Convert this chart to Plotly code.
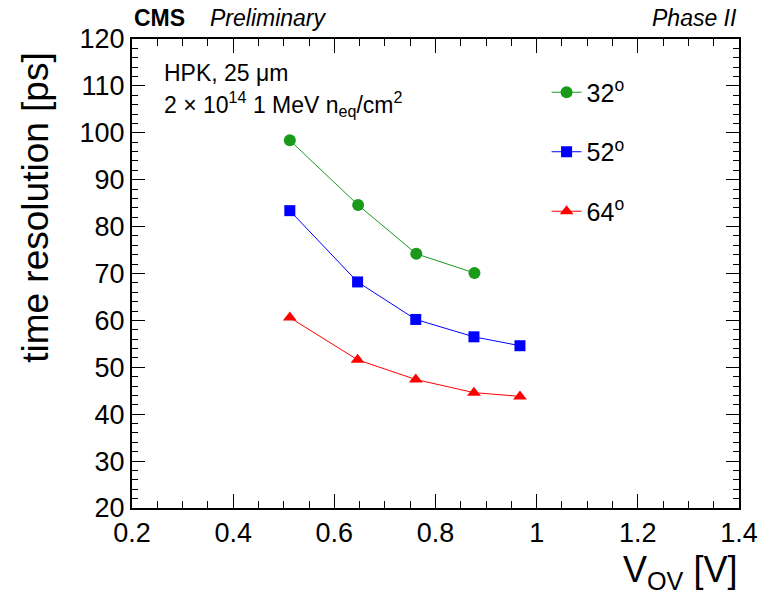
import plotly.graph_objects as go

# Data
vov_32 = [0.512, 0.647, 0.762, 0.877]
res_32 = [98.4, 84.6, 74.2, 70.1]

vov_52 = [0.512, 0.646, 0.761, 0.876, 0.967]
res_52 = [83.4, 68.2, 60.2, 56.5, 54.6]

vov_64 = [0.512, 0.646, 0.761, 0.876, 0.967]
res_64 = [60.6, 51.6, 47.4, 44.6, 43.8]

series_names = ["32<sup>o</sup>", "52<sup>o</sup>", "64<sup>o</sup>"]
x_ticks = [0.2, 0.4, 0.6, 0.8, 1.0, 1.2, 1.4]
x_tick_labels = ["0.2", "0.4", "0.6", "0.8", "1", "1.2", "1.4"]
y_ticks = [20, 30, 40, 50, 60, 70, 80, 90, 100, 110, 120]

FONT = "Liberation Sans, Arial, Helvetica, sans-serif"

fig = go.Figure()
fig.add_trace(go.Scatter(x=vov_32, y=res_32, name=series_names[0], mode="lines+markers",
                         legendgroup="a",
                         line=dict(color="#1a9a1a", width=1),
                         marker=dict(symbol="circle", size=12, color="#1a9a1a")))
fig.add_trace(go.Scatter(x=vov_52, y=res_52, name=series_names[1], mode="lines+markers",
                         legendgroup="b",
                         line=dict(color="#0000ff", width=1),
                         marker=dict(symbol="square", size=11, color="#0000ff")))
fig.add_trace(go.Scatter(x=vov_64, y=res_64, name=series_names[2], mode="lines+markers",
                         legendgroup="c",
                         line=dict(color="#ff0000", width=1),
                         marker=dict(symbol="triangle-up", size=12, color="#ff0000")))

axis_common = dict(
    showgrid=False, zeroline=False, showline=True, linecolor="black", linewidth=2,
    mirror="allticks", ticks="inside", tickcolor="black", tickwidth=1,
    tickfont=dict(family=FONT, size=27, color="black"),
)

fig.update_xaxes(range=[0.2, 1.4], tickvals=x_ticks, ticktext=x_tick_labels, ticklen=14,
                 minor=dict(dtick=0.05, ticklen=7, ticks="inside", tickcolor="black", tickwidth=1),
                 **axis_common)
fig.update_yaxes(range=[20, 120], tickvals=y_ticks, ticklen=13,
                 minor=dict(dtick=2, ticklen=6, ticks="inside", tickcolor="black", tickwidth=1),
                 **axis_common)

annotations = [
    dict(text="time resolution [ps]", xref="paper", yref="paper", x=-0.154, y=0.977,
         xshift=-3, xanchor="center", yanchor="top", textangle=-90, showarrow=False,
         font=dict(family=FONT, size=37, color="black")),
    dict(text="V<sub>OV</sub> [V]", xref="paper", yref="paper", x=1.0, y=-0.095, yshift=6,
         xanchor="right", yanchor="top", showarrow=False,
         font=dict(family=FONT, size=36, color="black")),
    dict(text="<b>CMS</b>", xref="paper", yref="paper", x=0.0, y=1.0, yshift=6,
         xanchor="left", yanchor="bottom", showarrow=False,
         font=dict(family=FONT, size=23, color="black")),
    dict(text="<i>Preliminary</i>", xref="paper", yref="paper", x=0.125, y=1.0, yshift=6,
         xanchor="left", yanchor="bottom", showarrow=False,
         font=dict(family=FONT, size=23, color="black")),
    dict(text="<i>Phase II</i>", xref="paper", yref="paper", x=1.0, y=1.0, yshift=6,
         xanchor="right", yanchor="bottom", showarrow=False,
         font=dict(family=FONT, size=23, color="black")),
    dict(text="HPK, 25 \u03bcm", xref="paper", yref="paper", x=0.05, y=0.928,
         xanchor="left", yanchor="middle", showarrow=False,
         font=dict(family=FONT, size=23, color="black")),
    dict(text="2 \u00d7 10<sup>14</sup> 1 MeV n<sub>eq</sub>/cm<sup>2</sup>", xref="paper", yref="paper",
         x=0.05, y=0.862, xanchor="left", yanchor="middle", showarrow=False,
         font=dict(family=FONT, size=23, color="black")),
]

fig.update_layout(
    width=770, height=601,
    margin=dict(l=132, r=28, t=39, b=93),
    paper_bgcolor="white", plot_bgcolor="white",
    showlegend=True,
    legend=dict(x=0.683, y=0.935, xanchor="left", yanchor="top",
                font=dict(family=FONT, size=25, color="black"),
                bgcolor="rgba(0,0,0,0)", tracegroupgap=24, itemwidth=30,
                traceorder="grouped"),
    annotations=annotations,
)

fig.write_html("out.html", config={"displayModeBar": False},
               post_script="document.body.style.margin='0';document.body.style.overflow='hidden';")
